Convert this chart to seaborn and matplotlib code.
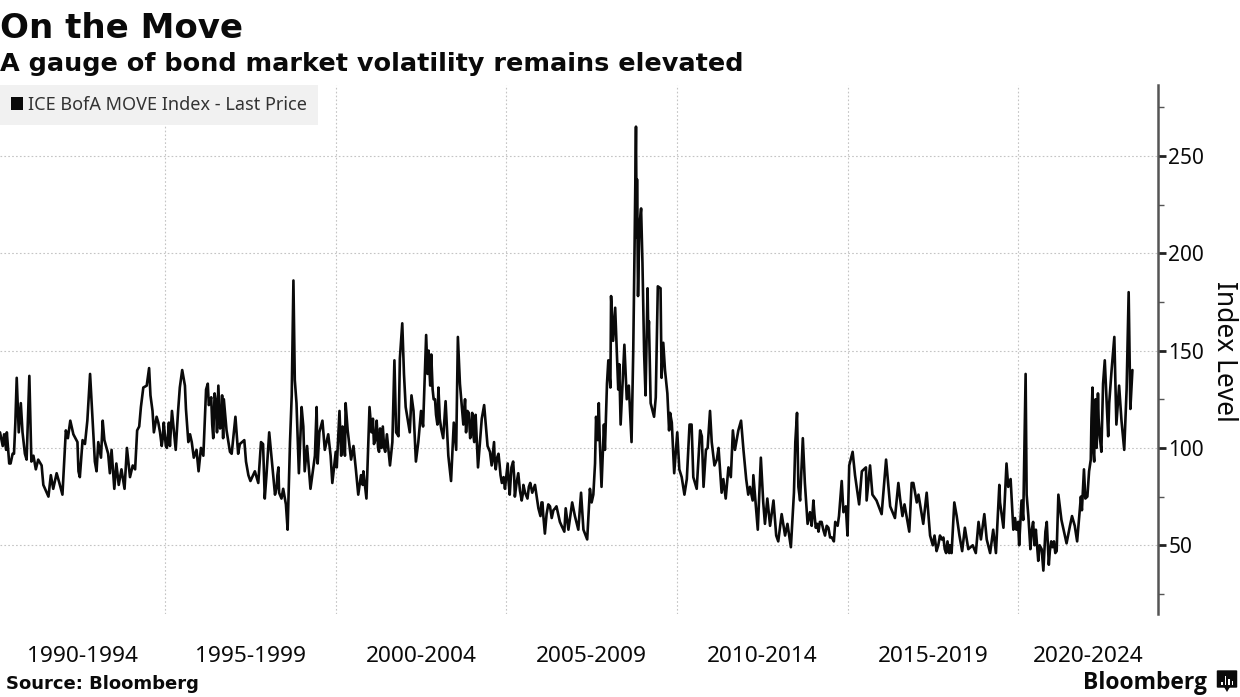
import matplotlib
matplotlib.use('Agg')
import matplotlib.pyplot as plt
import numpy as np
import pandas as pd
import seaborn as sns
from matplotlib.patches import FancyBboxPatch, Patch, Polygon, Rectangle
from matplotlib.ticker import FixedLocator, NullFormatter

# values: decimal year / index level, one pair of lists per stretch
years_1990s_a = [1990.16, 1990.24, 1990.28, 1990.34, 1990.36, 1990.43, 1990.47, 1990.53, 1990.57, 1990.61, 1990.65, 1990.71, 1990.77, 1990.82, 1990.89, 1990.94, 1991.02, 1991.08, 1991.14, 1991.21, 1991.28, 1991.38, 1991.43, 1991.58, 1991.65, 1991.72, 1991.82, 1991.90, 1991.99, 1992.06, 1992.09, 1992.15, 1992.22, 1992.31, 1992.43, 1992.46, 1992.50, 1992.58, 1992.65, 1992.72, 1992.80, 1992.89, 1992.94, 1992.99, 1993.04, 1993.12, 1993.17, 1993.22, 1993.33, 1993.38, 1993.43, 1993.51, 1993.57, 1993.64, 1993.72, 1993.81, 1993.88, 1993.97, 1994.05, 1994.12, 1994.18, 1994.24, 1994.29, 1994.36, 1994.46, 1994.53, 1994.57, 1994.63, 1994.67, 1994.75, 1994.85, 1994.90, 1994.96]
level_1990s_a = [108, 101, 107, 99, 108, 92, 92, 97, 97, 113, 136, 108, 123, 108, 97, 94, 137, 93, 96, 89, 94, 91, 81, 75, 86, 79, 87, 82, 76, 99, 109, 105, 114, 107, 103, 88, 85, 104, 102, 114, 138, 109, 93, 88, 103, 95, 114, 104, 97, 87, 99, 79, 92, 81, 89, 79, 100, 85, 91, 89, 109, 111, 121, 131, 132, 141, 127, 119, 108, 116, 108, 101, 113]

years_1990s_b = [1995.02, 1995.09, 1995.14, 1995.20, 1995.31, 1995.38, 1995.43, 1995.50, 1995.58, 1995.61, 1995.68, 1995.73, 1995.78, 1995.84, 1995.92, 1995.98, 1996.05, 1996.12, 1996.20, 1996.25, 1996.31, 1996.35, 1996.41, 1996.49, 1996.56, 1996.61, 1996.67, 1996.72, 1996.80, 1996.90, 1996.95, 1997.06, 1997.14, 1997.19, 1997.32, 1997.37, 1997.44, 1997.50, 1997.63, 1997.73, 1997.81, 1997.87, 1997.92, 1997.97, 1998.05, 1998.12, 1998.22, 1998.29, 1998.34, 1998.41, 1998.46, 1998.54, 1998.59, 1998.66, 1998.71, 1998.76, 1998.80, 1998.85, 1998.92, 1999.00, 1999.05, 1999.09, 1999.16, 1999.26, 1999.39, 1999.44, 1999.47, 1999.52, 1999.61, 1999.68, 1999.78, 1999.85, 1999.90]
level_1990s_b = [101, 108, 101, 119, 99, 119, 131, 140, 132, 120, 103, 107, 103, 95, 99, 88, 100, 96, 130, 133, 123, 126, 105, 123, 132, 110, 127, 125, 109, 98, 97, 116, 97, 102, 104, 93, 86, 83, 88, 82, 103, 102, 74, 86, 108, 95, 76, 86, 77, 74, 79, 71, 58, 103, 127, 186, 135, 123, 87, 121, 111, 88, 101, 79, 96, 121, 92, 108, 114, 99, 107, 96, 82]

years_2000s_a = [2000.00, 2000.03, 2000.11, 2000.16, 2000.20, 2000.24, 2000.29, 2000.35, 2000.45, 2000.52, 2000.59, 2000.66, 2000.74, 2000.79, 2000.81, 2000.90, 2000.99, 2001.05, 2001.12, 2001.20, 2001.27, 2001.38, 2001.45, 2001.59, 2001.66, 2001.72, 2001.77, 2001.84, 2001.88, 2001.95, 2002.00, 2002.05, 2002.17, 2002.22, 2002.28, 2002.35, 2002.42, 2002.50, 2002.56, 2002.65, 2002.69, 2002.74, 2002.80, 2002.87, 2002.94, 2003.01, 2003.09, 2003.15, 2003.22, 2003.30, 2003.38, 2003.46, 2003.53, 2003.58, 2003.64, 2003.74, 2003.79, 2003.86, 2003.94, 2004.00, 2004.06, 2004.10, 2004.17, 2004.28, 2004.35, 2004.45, 2004.57, 2004.64, 2004.69, 2004.77, 2004.83, 2004.96]
level_2000s_a = [98, 90, 119, 96, 111, 103, 123, 109, 94, 101, 89, 76, 86, 81, 88, 74, 121, 108, 102, 114, 98, 111, 98, 91, 103, 145, 108, 106, 146, 164, 138, 121, 108, 127, 119, 93, 103, 119, 111, 158, 138, 142, 148, 125, 117, 131, 110, 105, 124, 96, 83, 113, 99, 157, 133, 112, 125, 119, 105, 118, 103, 117, 90, 115, 122, 101, 91, 103, 89, 97, 86, 79]

years_2000s_b = [2005.04, 2005.10, 2005.20, 2005.25, 2005.35, 2005.45, 2005.50, 2005.62, 2005.70, 2005.76, 2005.84, 2005.94, 2006.03, 2006.08, 2006.13, 2006.23, 2006.33, 2006.43, 2006.52, 2006.62, 2006.70, 2006.74, 2006.82, 2006.93, 2007.01, 2007.11, 2007.19, 2007.26, 2007.37, 2007.45, 2007.50, 2007.55, 2007.60, 2007.63, 2007.68, 2007.71, 2007.74, 2007.79, 2007.86, 2007.89, 2007.95, 2007.99, 2008.05, 2008.07, 2008.13, 2008.19, 2008.28, 2008.31, 2008.35, 2008.46, 2008.53, 2008.59, 2008.67, 2008.72, 2008.76, 2008.80, 2008.82, 2008.83, 2008.86, 2008.90, 2008.95, 2008.99, 2009.04, 2009.08, 2009.14, 2009.16, 2009.18, 2009.23, 2009.33, 2009.38, 2009.44, 2009.52, 2009.55, 2009.60, 2009.65, 2009.72, 2009.77, 2009.80, 2009.85, 2009.92, 2009.95]
level_2000s_b = [92, 76, 93, 75, 87, 73, 81, 74, 82, 77, 81, 69, 72, 66, 56, 71, 64, 69, 66, 60, 57, 69, 58, 72, 65, 58, 77, 58, 53, 79, 72, 76, 92, 116, 104, 123, 103, 80, 112, 99, 133, 145, 131, 178, 155, 172, 130, 143, 112, 153, 125, 132, 103, 150, 205, 265, 208, 238, 178, 214, 223, 195, 148, 127, 182, 159, 165, 123, 116, 126, 183, 182, 136, 154, 140, 128, 109, 118, 113, 87, 94]

years_2010s_a = [2010.01, 2010.07, 2010.14, 2010.22, 2010.29, 2010.37, 2010.43, 2010.48, 2010.58, 2010.68, 2010.73, 2010.78, 2010.85, 2010.90, 2010.97, 2011.02, 2011.10, 2011.17, 2011.22, 2011.31, 2011.36, 2011.43, 2011.51, 2011.58, 2011.64, 2011.70, 2011.80, 2011.88, 2011.95, 2012.03, 2012.09, 2012.14, 2012.22, 2012.24, 2012.37, 2012.46, 2012.53, 2012.58, 2012.65, 2012.73, 2012.83, 2012.91, 2012.97, 2013.07, 2013.17, 2013.24, 2013.34, 2013.43, 2013.47, 2013.52, 2013.56, 2013.61, 2013.69, 2013.75, 2013.83, 2013.90, 2014.00, 2014.07, 2014.15, 2014.24, 2014.34, 2014.44, 2014.54, 2014.60, 2014.64, 2014.71, 2014.75, 2014.83, 2014.88, 2014.95]
level_2010s_a = [108, 89, 85, 76, 84, 112, 112, 85, 79, 109, 106, 80, 99, 100, 119, 103, 91, 94, 100, 77, 84, 74, 90, 85, 109, 99, 109, 114, 99, 84, 76, 80, 73, 86, 58, 95, 72, 61, 74, 60, 73, 55, 52, 66, 55, 61, 49, 77, 103, 118, 80, 73, 105, 82, 61, 67, 73, 59, 57, 62, 55, 59, 54, 52, 62, 60, 65, 83, 67, 70]

years_2010s_b = [2015.00, 2015.05, 2015.15, 2015.22, 2015.34, 2015.42, 2015.54, 2015.56, 2015.66, 2015.73, 2015.85, 2016.00, 2016.05, 2016.13, 2016.20, 2016.25, 2016.39, 2016.49, 2016.54, 2016.61, 2016.67, 2016.81, 2016.88, 2016.93, 2017.03, 2017.08, 2017.22, 2017.32, 2017.42, 2017.61, 2017.71, 2017.81, 2017.89, 2018.05, 2018.13, 2018.20, 2018.36, 2018.44, 2018.54, 2018.67, 2018.76, 2018.84, 2018.91, 2019.01, 2019.08, 2019.18, 2019.27, 2019.35, 2019.45, 2019.47, 2019.57, 2019.66, 2019.71, 2019.78, 2019.86, 2019.91]
level_2010s_b = [55, 91, 98, 86, 71, 88, 90, 73, 91, 76, 73, 66, 77, 94, 80, 70, 64, 82, 74, 65, 71, 57, 82, 82, 72, 76, 61, 77, 55, 47, 55, 54, 46, 46, 72, 65, 47, 59, 48, 50, 46, 62, 53, 66, 53, 46, 58, 46, 81, 72, 59, 92, 80, 84, 58, 64]

years_2020s = [2020.03, 2020.10, 2020.15, 2020.22, 2020.25, 2020.30, 2020.36, 2020.44, 2020.59, 2020.69, 2020.74, 2020.80, 2020.84, 2020.90, 2021.01, 2021.13, 2021.18, 2021.27, 2021.42, 2021.52, 2021.58, 2021.66, 2021.73, 2021.84, 2021.87, 2021.93, 2021.97, 2022.03, 2022.13, 2022.18, 2022.23, 2022.27, 2022.32, 2022.34, 2022.44, 2022.49, 2022.54, 2022.64, 2022.67, 2022.74, 2022.82, 2022.88, 2022.96, 2023.03, 2023.11, 2023.18, 2023.24, 2023.29, 2023.35]
level_2020s = [50, 73, 63, 138, 76, 65, 48, 62, 42, 48, 37, 57, 62, 40, 49, 47, 76, 63, 51, 60, 65, 60, 52, 75, 68, 89, 74, 75, 94, 131, 93, 125, 108, 128, 98, 133, 145, 106, 123, 140, 157, 112, 132, 114, 99, 130, 180, 120, 140]

# extra wiggles from the stretches where the trace reads as a thick black band
years_dense = [1994.80, 1994.93, 1995.05, 1995.11, 1996.28, 1996.38, 1996.45, 1996.52, 1996.64, 1996.70, 1998.27, 1998.32, 2000.27, 2001.09, 2001.16, 2001.24, 2001.30, 2001.34, 2001.42, 2001.50, 2002.72, 2002.77, 2002.84, 2002.91, 2002.98, 2003.05, 2003.82, 2003.90, 2003.97, 2004.03, 2004.52, 2004.60, 2004.66, 2004.73, 2004.80, 2004.87, 2004.92, 2005.07, 2005.15, 2005.23, 2005.30, 2005.40, 2005.48, 2005.55, 2005.66, 2006.00, 2006.06, 2006.11, 2006.18, 2006.28, 2006.38, 2006.47, 2006.57, 2013.95, 2014.03, 2014.11, 2014.19, 2014.29, 2014.39, 2014.49, 2017.50, 2017.55, 2017.66, 2017.76, 2017.85, 2017.93, 2017.98, 2018.00, 2018.28, 2019.95, 2020.00, 2020.40, 2020.48, 2020.52, 2020.63, 2020.93, 2020.97, 2021.05, 2021.09, 2022.08, 2022.15, 2022.20, 2022.25, 2022.30, 2022.36, 2022.40]
level_dense = [113, 105, 100, 113, 122, 112, 128, 108, 112, 105, 80, 90, 96, 115, 104, 100, 110, 100, 100, 107, 150, 132, 130, 125, 112, 115, 108, 118, 108, 107, 98, 96, 93, 95, 92, 82, 85, 82, 90, 85, 82, 78, 76, 77, 80, 65, 72, 60, 66, 70, 68, 70, 62, 60, 66, 61, 62, 58, 60, 54, 50, 55, 50, 53, 48, 52, 46, 50, 55, 58, 62, 58, 50, 58, 50, 47, 52, 52, 46, 88, 115, 100, 122, 100, 115, 105]

period_labels = ['1990-1994', '1995-1999', '2000-2004', '2005-2009', '2010-2014', '2015-2019', '2020-2024']
period_starts = [1995, 2000, 2005, 2010, 2015, 2020]
y_major = [50, 100, 150, 200, 250]
y_minor = [25, 75, 125, 175, 225, 275]

W, H = 1240, 697
BLACK = '#0a0a0a'
GRID = '#c4c4c4'


def fx(px):
    return px / W


def fy(py):
    return 1 - py / H


df = pd.DataFrame({
    'year': years_1990s_a + years_1990s_b + years_2000s_a + years_2000s_b + years_2010s_a + years_2010s_b + years_2020s + years_dense,
    'level': level_1990s_a + level_1990s_b + level_2000s_a + level_2000s_b + level_2010s_a + level_2010s_b + level_2020s + level_dense,
}).sort_values('year')

sns.set_theme(style='white')
plt.rcParams['font.family'] = ['Noto Sans', 'DejaVu Sans']

fig = plt.figure(figsize=(W / 100, H / 100), dpi=100, facecolor='white')
ax = fig.add_axes([0, fy(614), fx(1158), (614 - 85) / H])

sns.lineplot(data=df, x='year', y='level', ax=ax, color=BLACK, linewidth=1.9,
             estimator=None, sort=False, errorbar=None)

x_min, x_max = 1990.16, 2024.10
ax.set_xlim(x_min, x_max)
ax.set_ylim(14.7, 286.4)
ax.set_xlabel('')
ax.set_ylabel('')

# period labels sit in the middle of each stretch, gridlines at the boundaries
edges = [x_min] + period_starts + [x_max]
centers = [(a + b) / 2 for a, b in zip(edges[:-1], edges[1:])]
ax.set_xticks(centers)
ax.set_xticklabels(period_labels, fontsize=16.3, color=BLACK)
ax.xaxis.set_minor_locator(FixedLocator(period_starts))
ax.xaxis.set_minor_formatter(NullFormatter())
ax.tick_params(axis='x', which='both', length=0, pad=23)
ax.grid(axis='x', which='minor', color=GRID, linestyle=(0, (1.5, 2)), linewidth=0.8)

ax.yaxis.tick_right()
ax.set_yticks(y_major)
ax.set_yticks(y_minor, minor=True)
ax.tick_params(axis='y', which='major', length=6, width=2, color='#222222', labelsize=15, labelcolor=BLACK, pad=1.5)
ax.tick_params(axis='y', which='minor', length=4, width=1, color='#555555', right=True)
ax.grid(axis='y', which='major', color=GRID, linestyle=(0, (1.5, 2)), linewidth=0.8)
ax.set_axisbelow(True)

for side in ['top', 'left', 'bottom']:
    ax.spines[side].set_visible(False)
ax.spines['right'].set_color('#555555')
ax.spines['right'].set_linewidth(1.8)

leg = ax.legend(handles=[Patch(facecolor=BLACK, edgecolor='none', label='ICE BofA MOVE Index - Last Price')],
                loc='upper left', bbox_to_anchor=(0, 1), borderaxespad=0, frameon=True, fancybox=False,
                facecolor='#f1f1f1', edgecolor='none', framealpha=1, fontsize=13, labelcolor='#333333',
                handlelength=0.7, handleheight=0.7, handletextpad=0.25, borderpad=0.6)
leg.get_frame().set_linewidth(0)

fig.text(fx(0), fy(38), 'On the Move', fontsize=24.5, fontweight='bold', family='DejaVu Sans', color=BLACK, va='baseline')
fig.text(fx(0), fy(71), 'A gauge of bond market volatility remains elevated', fontsize=18.35, fontweight='bold',
         family='DejaVu Sans', color=BLACK, va='baseline')
fig.text(fx(1224), fy(351), 'Index Level', fontsize=19, rotation=270, color=BLACK, ha='center', va='center')
fig.text(fx(6), fy(689), 'Source: Bloomberg', fontsize=13, fontweight='bold', family='DejaVu Sans', color=BLACK, va='baseline')
fig.text(fx(1207), fy(689), 'Bloomberg', fontsize=16.5, fontweight='bold', family='Open Sans', color=BLACK, ha='right', va='baseline')

# small logo next to the wordmark
fig.add_artist(FancyBboxPatch((fx(1218), fy(687)), 18 / W, 16 / H, boxstyle='round,pad=0.001', transform=fig.transFigure,
                              facecolor=BLACK, edgecolor='none'))
fig.add_artist(Polygon([(fx(1224), fy(687)), (fx(1230), fy(687)), (fx(1227), fy(692))], closed=True,
                       transform=fig.transFigure, facecolor=BLACK, edgecolor='none'))
for bx, top in zip([1221, 1224.5, 1228, 1231.5], [682, 676, 679, 681]):
    fig.add_artist(Rectangle((fx(bx), fy(685)), 1.5 / W, (685 - top) / H, transform=fig.transFigure,
                             facecolor='white', edgecolor='none'))

fig.savefig('out.png', dpi=100)
